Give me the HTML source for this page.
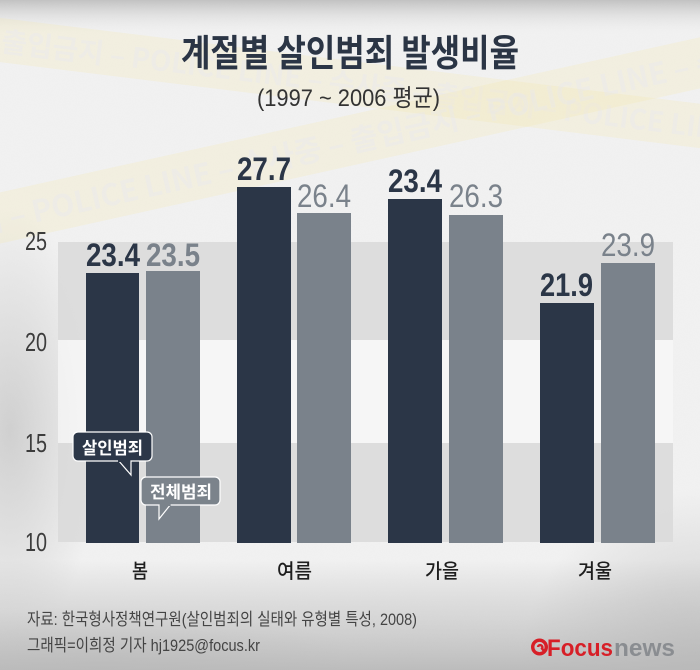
<!DOCTYPE html>
<html><head><meta charset="utf-8">
<style>
html,body{margin:0;padding:0;background:#ececec;width:700px;height:670px;overflow:hidden;}
svg{display:block;overflow:hidden;}
text{font-family:"Liberation Sans","Noto Sans CJK KR",sans-serif;}
.kr{font-family:"Noto Sans CJK KR","Liberation Sans",sans-serif;}
</style></head>
<body>
<svg width="700" height="670" viewBox="0 0 700 670" xmlns="http://www.w3.org/2000/svg">
<defs>
  <linearGradient id="topG" x1="0" y1="0" x2="0" y2="1">
    <stop offset="0" stop-color="#c2c2c2"/>
    <stop offset="1" stop-color="#ececec" stop-opacity="0"/>
  </linearGradient>
  <linearGradient id="botG" x1="0" y1="0" x2="0" y2="1">
    <stop offset="0" stop-color="#c6c6c6" stop-opacity="0"/>
    <stop offset="0.5" stop-color="#cdcdcd" stop-opacity="0.7"/>
    <stop offset="1" stop-color="#bcbcbc"/>
  </linearGradient>
  <radialGradient id="leftG" cx="0.5" cy="0.5" r="0.5">
    <stop offset="0" stop-color="#c8c8c8" stop-opacity="0.8"/>
    <stop offset="1" stop-color="#c8c8c8" stop-opacity="0"/>
  </radialGradient>
  <radialGradient id="rbG" cx="1" cy="1" r="1">
    <stop offset="0" stop-color="#b8b8b8" stop-opacity="0.7"/>
    <stop offset="1" stop-color="#b8b8b8" stop-opacity="0"/>
  </radialGradient>
  <radialGradient id="lbG" cx="0.3" cy="1" r="0.8">
    <stop offset="0" stop-color="#b8b8b8" stop-opacity="0.5"/>
    <stop offset="1" stop-color="#b8b8b8" stop-opacity="0"/>
  </radialGradient>
  <filter id="noise" x="0" y="0" width="100%" height="100%">
    <feTurbulence type="fractalNoise" baseFrequency="0.9" numOctaves="2" seed="3"/>
    <feColorMatrix type="matrix" values="0 0 0 0 0.5  0 0 0 0 0.5  0 0 0 0 0.5  0 0 0 0.25 0"/>
  </filter>
</defs>

<!-- background -->
<rect x="0" y="0" width="700" height="670" fill="#f2f2f2"/>
<rect x="0" y="0" width="700" height="34" fill="url(#topG)"/>
<rect x="0" y="560" width="700" height="110" fill="url(#botG)"/>
<ellipse cx="10" cy="430" rx="90" ry="220" fill="url(#leftG)"/>
<rect x="520" y="490" width="180" height="180" fill="url(#rbG)"/>
<rect x="0" y="590" width="340" height="80" fill="url(#lbG)"/>
<rect x="0" y="0" width="700" height="670" filter="url(#noise)" opacity="0.2"/>

<!-- police tapes -->
<g transform="translate(0,40) rotate(7)" opacity="0.45">
  <rect x="-60" y="-22" width="800" height="44" fill="#f3e8b0" opacity="0.6"/>
  <text x="-20" y="11" class="kr" font-size="28" font-weight="bold" fill="#ebe7da">– 출입금지 – POLICE LINE – 수사중 – 출입금지 – POLICE LINE</text>
</g>
<g transform="translate(0,218) rotate(-12.5)" opacity="0.45">
  <rect x="-60" y="-25" width="800" height="50" fill="#f3e8b0" opacity="0.6"/>
  <text x="-25" y="12" class="kr" font-size="30" font-weight="bold" fill="#ebe7da">지 – POLICE LINE – 수사중 – 출입금지 – POLICE LINE – 수사중</text>
</g>

<!-- title -->
<text x="181" y="66" class="kr" font-size="37" font-weight="bold" fill="#2b3545" textLength="338" lengthAdjust="spacingAndGlyphs">계절별 살인범죄 발생비율</text>
<text x="257" y="106" font-size="24" fill="#333333" textLength="183" lengthAdjust="spacingAndGlyphs">(1997 ~ 2006 평균)</text>

<!-- chart bands -->
<rect x="58" y="242" width="615" height="98" fill="#d9d9d9" opacity="0.85"/>
<rect x="58" y="340" width="615" height="103" fill="#f8f8f8" opacity="0.7"/>
<rect x="58" y="443" width="615" height="99" fill="#d9d9d9" opacity="0.85"/>

<!-- y labels -->
<text x="25" y="250" font-size="26" fill="#3c3c3c" textLength="22" lengthAdjust="spacingAndGlyphs">25</text>
<text x="25" y="351" font-size="26" fill="#3c3c3c" textLength="22" lengthAdjust="spacingAndGlyphs">20</text>
<text x="25" y="452" font-size="26" fill="#3c3c3c" textLength="22" lengthAdjust="spacingAndGlyphs">15</text>
<text x="25" y="551" font-size="26" fill="#3c3c3c" textLength="22" lengthAdjust="spacingAndGlyphs">10</text>

<!-- bars -->
<rect x="86" y="273" width="53" height="270" fill="#2b3647"/>
<rect x="146" y="271" width="54" height="272" fill="#7a828b"/>
<rect x="237" y="187" width="54" height="356" fill="#2b3647"/>
<rect x="297" y="213" width="54" height="330" fill="#7a828b"/>
<rect x="388" y="199" width="54" height="344" fill="#2b3647"/>
<rect x="449" y="215" width="54" height="328" fill="#7a828b"/>
<rect x="540" y="303" width="54" height="240" fill="#2b3647"/>
<rect x="601" y="263" width="54" height="280" fill="#7a828b"/>

<!-- value labels -->
<text x="86" y="266" font-size="32" font-weight="bold" fill="#2b3647" textLength="54" lengthAdjust="spacingAndGlyphs">23.4</text>
<text x="146" y="266" font-size="32" font-weight="bold" fill="#7a828b" textLength="54" lengthAdjust="spacingAndGlyphs">23.5</text>
<text x="237" y="180" font-size="32" font-weight="bold" fill="#2b3647" textLength="54" lengthAdjust="spacingAndGlyphs">27.7</text>
<text x="297" y="207" font-size="32" fill="#7a828b" textLength="54" lengthAdjust="spacingAndGlyphs">26.4</text>
<text x="388" y="192" font-size="32" font-weight="bold" fill="#2b3647" textLength="54" lengthAdjust="spacingAndGlyphs">23.4</text>
<text x="449" y="207" font-size="32" fill="#7a828b" textLength="54" lengthAdjust="spacingAndGlyphs">26.3</text>
<text x="540" y="296" font-size="32" font-weight="bold" fill="#2b3647" textLength="53" lengthAdjust="spacingAndGlyphs">21.9</text>
<text x="601" y="256" font-size="32" fill="#7a828b" textLength="54" lengthAdjust="spacingAndGlyphs">23.9</text>

<!-- legend bubbles -->
<g>
  <polygon points="118,460 131,460 131,475" fill="#2c3748" stroke="#ffffff" stroke-width="1.2"/>
  <rect x="73" y="432" width="79" height="29" rx="5" fill="#2c3748" stroke="#ffffff" stroke-width="1.2"/>
  <rect x="118" y="459" width="12.4" height="3" fill="#2c3748"/>
  <text x="82" y="454" class="kr" font-size="17" font-weight="bold" fill="#ffffff" textLength="61" lengthAdjust="spacingAndGlyphs">살인범죄</text>
</g>
<g>
  <polygon points="159,504 171,504 159,519" fill="#7b838b" stroke="#ffffff" stroke-width="1.2"/>
  <rect x="141" y="477" width="79" height="28" rx="5" fill="#7b838b" stroke="#ffffff" stroke-width="1.2"/>
  <rect x="159.6" y="503" width="11" height="3" fill="#7b838b"/>
  <text x="150" y="498" class="kr" font-size="17" font-weight="bold" fill="#ffffff" textLength="62" lengthAdjust="spacingAndGlyphs">전체범죄</text>
</g>

<!-- category labels -->
<text x="132" y="578" class="kr" font-size="20" font-weight="500" fill="#1e1e1e" textLength="16" lengthAdjust="spacingAndGlyphs">봄</text>
<text x="277" y="578" class="kr" font-size="20" font-weight="500" fill="#1e1e1e" textLength="35" lengthAdjust="spacingAndGlyphs">여름</text>
<text x="425" y="578" class="kr" font-size="20" font-weight="500" fill="#1e1e1e" textLength="34" lengthAdjust="spacingAndGlyphs">가을</text>
<text x="578" y="578" class="kr" font-size="20" font-weight="500" fill="#1e1e1e" textLength="34" lengthAdjust="spacingAndGlyphs">겨울</text>

<!-- footer -->
<text x="27" y="625" font-size="17" fill="#444444" textLength="390" lengthAdjust="spacingAndGlyphs">자료: 한국형사정책연구원(살인범죄의 실태와 유형별 특성, 2008)</text>
<text x="27" y="651" font-size="17" fill="#444444" textLength="233" lengthAdjust="spacingAndGlyphs">그래픽=이희정 기자 hj1925@focus.kr</text>

<!-- logo -->
<g>
  <circle cx="539.5" cy="647" r="6.8" fill="none" stroke="#d71f27" stroke-width="3.4"/>
  <path d="M538 647 a2.2 2.2 0 1 1 4 1.5 l3 4" fill="none" stroke="#d71f27" stroke-width="2.4"/>
  <text x="547" y="656" font-size="24" font-weight="bold" fill="#d71f27" textLength="66" lengthAdjust="spacingAndGlyphs">Focus</text>
  <text x="614" y="656" font-size="24" font-weight="bold" fill="#8a8d91" textLength="61" lengthAdjust="spacingAndGlyphs">news</text>
</g>
</svg>
</body></html>
